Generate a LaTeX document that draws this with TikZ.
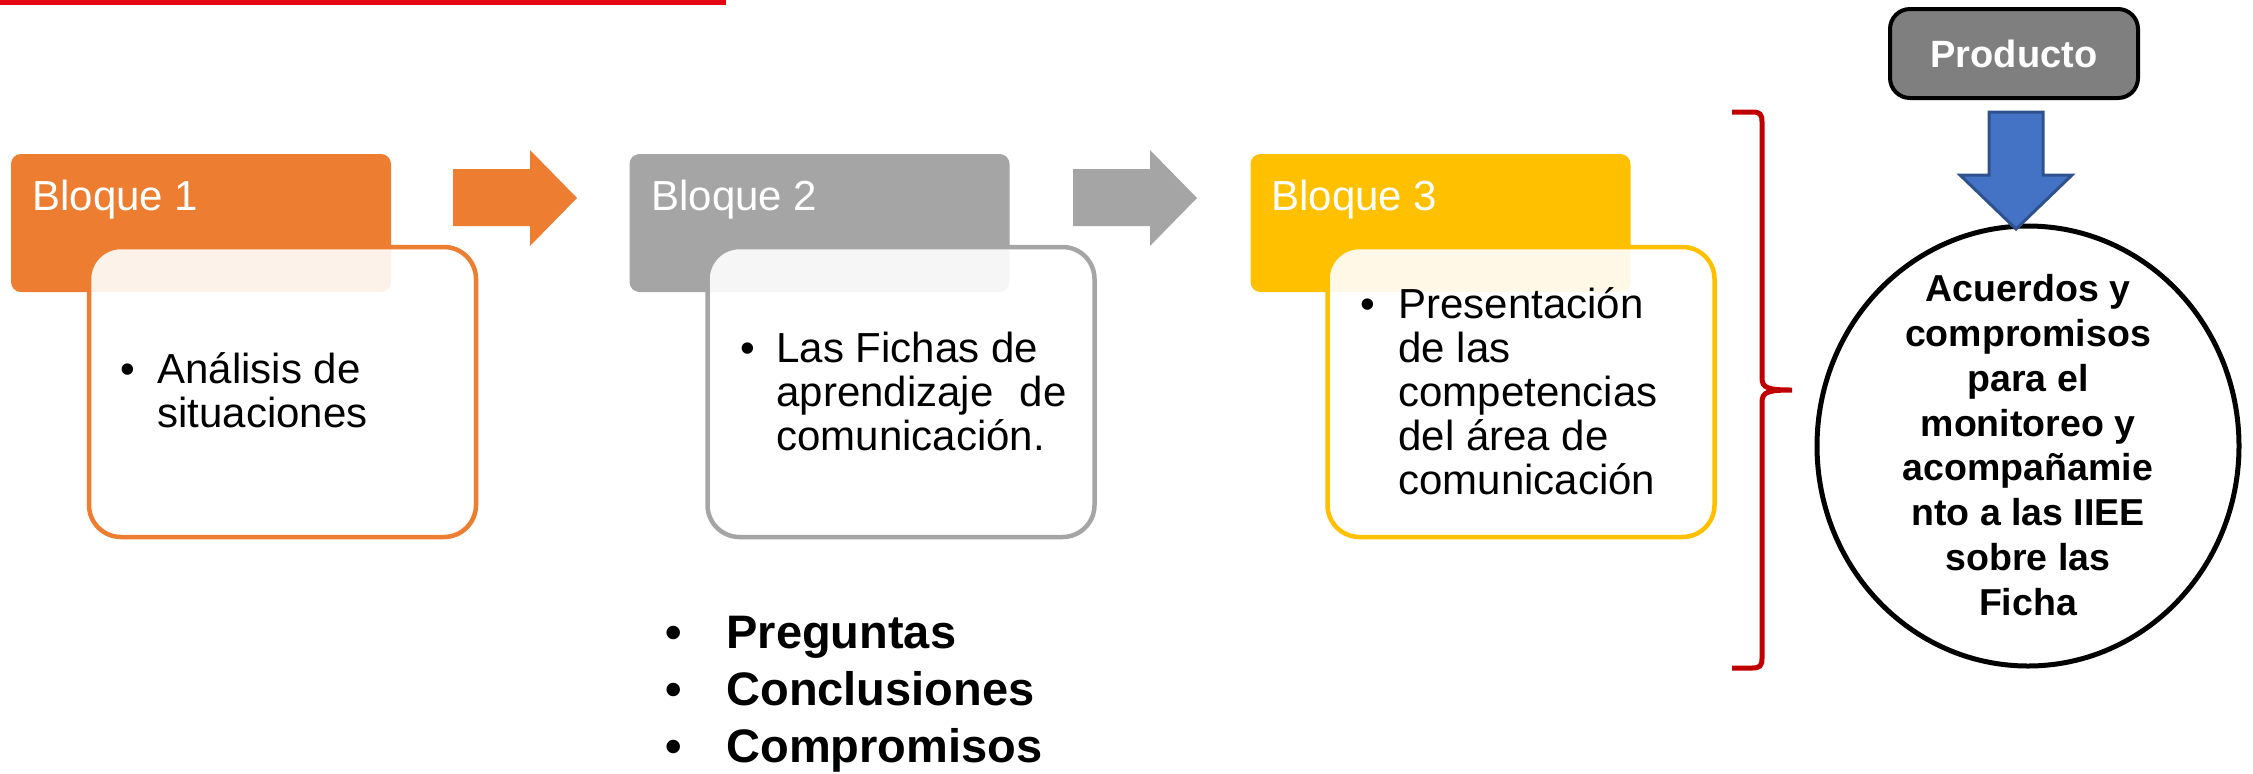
\documentclass[tikz,border=0pt]{standalone}
\usepackage{fontspec}
\setmainfont{Liberation Sans}
\usetikzlibrary{shapes.geometric}
\definecolor{bOrange}{HTML}{ED7D31}
\definecolor{bGray}{HTML}{A5A5A5}
\definecolor{bYellow}{HTML}{FFC000}
\definecolor{prodGray}{HTML}{7F7F7F}
\definecolor{aBlue}{HTML}{4472C4}
\definecolor{aBlueDark}{HTML}{2F528F}
\definecolor{braceRed}{HTML}{C00000}
\definecolor{topRed}{RGB}{227,6,19}
\begin{document}
\begin{tikzpicture}[x=0.5pt,y=-0.5pt,
  hdr/.style={rounded corners=5pt, minimum width=190pt, minimum height=69pt, inner sep=0pt},
  bodybox/.style={draw, line width=2.25pt, fill=white, fill opacity=0.9, draw opacity=1, rounded corners=16pt, minimum width=193.5pt, minimum height=145pt, inner sep=0pt},
  hdrtext/.style={anchor=base west, inner sep=0pt, text=white, font=\fontsize{21}{22}\selectfont},
  bodytext/.style={anchor=base west, inner sep=0pt, font=\fontsize{21}{22}\selectfont},
  listtext/.style={anchor=base west, inner sep=0pt, font=\bfseries\fontsize{23.5}{28.5}\selectfont},
  prodbox/.style={draw=black, line width=2pt, fill=prodGray, rounded corners=10pt, minimum width=124pt, minimum height=44.5pt, inner sep=0pt, text=white, font=\bfseries\fontsize{19}{22}\selectfont},
  goal/.style={ellipse, draw=black, line width=2.5pt, fill=white, minimum width=211pt, minimum height=220pt, inner sep=0pt},
  goaltext/.style={align=center, inner sep=0pt, font=\bfseries\fontsize{18.75}{22.4}\selectfont},
  blockarrow/.style={line width=0pt},
  bluearrow/.style={fill=aBlue, draw=aBlueDark, line width=1.5pt},
  bracestyle/.style={draw=braceRed, line width=2.5pt}
]
\useasboundingbox (0,0) rectangle (2253,773);
% top red rule
\fill[topRed] (0,0) rectangle (726,5);

% Block 1
\node[hdr, fill=bOrange] (h1) at (201,223) {};
\node[bodybox, draw=bOrange] (b1) at (282.5,392) {};
\node[hdrtext] (t1) at (32,210) {Bloque 1};
\node[bodytext] (u1) at (120,383) {\textbullet};
\node[bodytext] (x1) at (157,383) {\vtop{\hbox{Análisis de}\hbox{situaciones}}};

% Block 2
\node[hdr, fill=bGray] (h2) at (819.5,223) {};
\node[bodybox, draw=bGray] (b2) at (901,392) {};
\node[hdrtext] (t2) at (651,210) {Bloque 2};
\node[bodytext] (u2) at (740,362) {\textbullet};
\node[bodytext] (x2) at (776,362) {\vtop{\hbox{Las Fichas de}\hbox{aprendizaje\hspace{0.35em} de}\hbox{comunicación.}}};

% Block 3
\node[hdr, fill=bYellow] (h3) at (1440.5,223) {};
\node[bodybox, draw=bYellow] (b3) at (1521,392) {};
\node[hdrtext] (t3) at (1271,210) {Bloque 3};
\node[bodytext] (u3) at (1360,318) {\textbullet};
\node[bodytext] (x3) at (1398,318) {\vtop{\hbox{Presentación}\hbox{de las}\hbox{competencias}\hbox{del área de}\hbox{comunicación}}};

% block arrows between blocks
\fill[bOrange] (453,169) -- (530,169) -- (530,150) -- (577,198) -- (530,246) -- (530,226) -- (453,226) -- cycle;
\fill[bGray] (1073,169) -- (1150,169) -- (1150,150) -- (1197,198) -- (1150,246) -- (1150,226) -- (1073,226) -- cycle;

% bottom list
\node[listtext] (lb) at (665,648) {\vtop{\hbox{\textbullet}\hbox{\textbullet}\hbox{\textbullet}}};
\node[listtext] (lt) at (726,648) {\vtop{\hbox{Preguntas}\hbox{Conclusiones}\hbox{Compromisos}}};

% brace
\draw[bracestyle] (1732,112) -- (1752,112) .. controls (1760,112) and (1762,114) .. (1762,122) -- (1762,378) .. controls (1762,388) and (1768,390) .. (1792,390) .. controls (1768,390) and (1762,392) .. (1762,402) -- (1762,658) .. controls (1762,666) and (1760,668) .. (1752,668) -- (1732,668);

% product
\node[prodbox] (prod) at (2014,53.5) {Producto};
\node[goal] (goal) at (2028,446) {};
\node[goaltext] (gt) at (2028,445) {Acuerdos y\\compromisos\\para el\\monitoreo y\\acompañamie\\nto a las IIEE\\sobre las\\Ficha};
\draw[bluearrow] (1989,112) -- (2043,112) -- (2043,175) -- (2072,175) -- (2016,229) -- (1960,175) -- (1989,175) -- cycle;
\end{tikzpicture}
\end{document}
